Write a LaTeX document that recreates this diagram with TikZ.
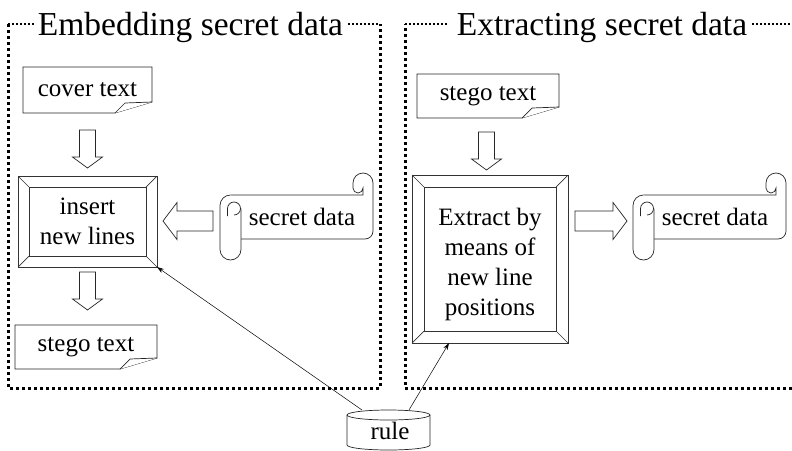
\documentclass[tikz,border=0pt]{standalone}
\usepackage{fontspec}
\setmainfont{Liberation Serif}
\usetikzlibrary{calc,arrows.meta}
\tikzset{
  shapeline/.style={draw=black!85, line width=0.7pt, fill=white},
  frameline/.style={draw=black!80, line width=0.7pt},
  dotbox/.style={line width=3pt, dash pattern=on 3pt off 3pt},
  dottop/.style={line width=1.6pt, dash pattern=on 1.6pt off 2.4pt},
  blockarrow/.style={draw=black!85, line width=0.7pt, fill=white},
  thinarrow/.style={draw=black, line width=0.5pt, -{Stealth[length=7pt,width=4.5pt]}},
  box/.style={inner sep=0pt, outer sep=0pt, align=center, font=\fontsize{25}{30}\selectfont},
  txt/.style={inner sep=0pt, outer sep=0pt, align=center, font=\fontsize{25}{30}\selectfont},
  titletxt/.style={inner sep=0pt, outer sep=0pt, font=\fontsize{33.5}{40}\selectfont},
}
% document shape with folded corner
\newcommand\docshape[1]{%
  \draw[shapeline] (#1.north west) -- (#1.north east) -- ($(#1.south east)+(0,-11)$)
     -- ($(#1.south east)+(-37,0)$) -- (#1.south west) -- cycle;
  \draw[shapeline] ($(#1.south east)+(-37,0)$) -- ($(#1.south east)+(-27,-10)$)
     -- ($(#1.south east)+(0,-11)$);
}
% bevelled frame
\newcommand\bevelframe[2]{%
  \draw[frameline] (#1.north west) rectangle (#1.south east);
  \draw[frameline] ($(#1.north west)+(#2,#2)$) rectangle ($(#1.south east)+(-#2,-#2)$);
  \draw[frameline] (#1.north west) -- ++(#2,#2);
  \draw[frameline] (#1.north east) -- ++(-#2,#2);
  \draw[frameline] (#1.south west) -- ++(#2,-#2);
  \draw[frameline] (#1.south east) -- ++(-#2,-#2);
}
% horizontal scroll around a text node
\newcommand\scrollshape[1]{%
  \begin{scope}[shift={(#1.center)}]
    \draw[shapeline] (-71.5,-22) -- (61,-22) -- (61,-29)
      arc[start angle=0,end angle=-180,radius=5pt] -- (51,-34)
      arc[start angle=180,end angle=0,radius=10pt] -- (71,14)
      arc[start angle=0,end angle=-90,radius=8pt] -- (-61,22);
    \draw[shapeline] (-61,-8.5) -- (-61,32.5)
      arc[start angle=0,end angle=-180,radius=10.5pt] -- (-82,-11.5)
      arc[start angle=180,end angle=90,radius=10.5pt];
    \draw[shapeline, fill=none] (-74.5,-1) -- (-74.5,-8.5)
      arc[start angle=180,end angle=-90,radius=6.5pt];
  \end{scope}
}
% block arrows
\newcommand\barrowdown[2]{%
  \draw[blockarrow] let \p1=(#1), \p2=(#2) in
    (\x1-8pt,\y1) -- (\x1+8pt,\y1) -- (\x1+8pt,\y2+11pt) -- (\x1+15pt,\y2+11pt)
    -- (\x1,\y2) -- (\x1-15pt,\y2+11pt) -- (\x1-8pt,\y2+11pt) -- cycle;
}
\newcommand\barrowleft[2]{%
  \draw[blockarrow] let \p1=(#1), \p2=(#2) in
    (\x1,\y1+10pt) -- (\x1,\y1-10pt) -- (\x2+14pt,\y1-10pt) -- (\x2+14pt,\y1-18.5pt)
    -- (\x2,\y1) -- (\x2+14pt,\y1+18.5pt) -- (\x2+14pt,\y1+10pt) -- cycle;
}
\newcommand\barrowright[2]{%
  \draw[blockarrow] let \p1=(#1), \p2=(#2) in
    (\x1,\y1+10pt) -- (\x1,\y1-10pt) -- (\x2-14pt,\y1-10pt) -- (\x2-14pt,\y1-18.5pt)
    -- (\x2,\y1) -- (\x2-14pt,\y1+18.5pt) -- (\x2-14pt,\y1+10pt) -- cycle;
}
\begin{document}
\begin{tikzpicture}[x=1pt,y=-1pt]
\useasboundingbox[fill=white] (0,0) rectangle (792,450);

% ---------- titles ----------
\node[titletxt, anchor=base] (title1) at (190.5,35) {Embedding secret data};
\node[titletxt, anchor=base] (title2) at (602,35) {Extracting secret data};

% ---------- dotted group boxes ----------
\coordinate (b1tl) at (8,24);
\coordinate (b1tr) at (380,24);
\coordinate (b1bl) at (8,388);
\coordinate (b1br) at (380,388);
\draw[dotbox] (b1tl) -- (b1bl) -- (b1br) -- (b1tr);
\draw[dottop] (b1tl) -- ($(title1.west |- b1tl)+(-4,0)$);
\draw[dottop] ($(title1.east |- b1tr)+(5,0)$) -- (b1tr);

\coordinate (b2tl) at (405,24);
\coordinate (b2tr) at (800,24);
\coordinate (b2bl) at (405,388);
\coordinate (b2br) at (800,388);
\draw[dotbox] (b2tr) -- (b2br) -- (b2bl) -- (b2tl);
\draw[dottop] (b2tl) -- ($(title2.west |- b2tl)+(-8,0)$);
\draw[dottop] ($(title2.east |- b2tr)+(5,0)$) -- (b2tr);

% ---------- left part ----------
\node[box, minimum width=129pt, minimum height=46pt] (cover) at (87.5,90) {};
\docshape{cover}
\node[txt] (covertext) at (cover.center) {cover text};

\node[box, minimum width=139pt, minimum height=91pt] (insert) at (87.5,221.5) {};
\bevelframe{insert}{11}
\node[txt] (inserttext) at (insert.center) {insert\\new lines};

\node[box, minimum width=142pt, minimum height=44pt] (stegoL) at (86,347) {};
\docshape{stegoL}
\node[txt] (stegoLtext) at (stegoL.center) {stego text};

\node[txt] (sd1) at (302,217) {\phantom{secret data}};
\scrollshape{sd1}
\node[txt] (sd1text) at (sd1.center) {secret data};

\coordinate (a1s) at ($(cover.south)+(0,17)$);
\coordinate (a1e) at ($(insert.north)+(0,-8)$);
\barrowdown{a1s}{a1e}
\coordinate (a2s) at ($(insert.south)+(0,5)$);
\coordinate (a2e) at ($(stegoL.north)+(1.5,-15)$);
\barrowdown{a2s}{a2e}
\coordinate (a3s) at ($(sd1.center)+(-89,4)$);
\coordinate (a3e) at ($(insert.east)+(6,0)$);
\barrowleft{a3s}{a3e}

% ---------- right part ----------
\node[box, minimum width=142pt, minimum height=44pt] (stegoR) at (488,96) {};
\docshape{stegoR}
\node[txt] (stegoRtext) at (stegoR.center) {stego text};

\node[box, minimum width=156pt, minimum height=168pt] (extract) at (490,259) {};
\bevelframe{extract}{12}
\node[txt] (extracttext) at ($(extract.center)+(0,5)$) {Extract by\\means of\\new line\\positions};

\node[txt] (sd2) at (715,217) {\phantom{secret data}};
\scrollshape{sd2}
\node[txt] (sd2text) at (sd2.center) {secret data};

\coordinate (a4s) at ($(stegoR.south)+(-1.5,14)$);
\coordinate (a4e) at ($(extract.north)+(-3.5,-5)$);
\barrowdown{a4s}{a4e}
\coordinate (a5s) at ($(extract.north east)+(7,46)$);
\coordinate (a5e) at ($(sd2.center)+(-88,4)$);
\barrowright{a5s}{a5e}

% ---------- rule cylinder ----------
\node[txt, anchor=base] (rule) at (390,439) {rule};
\draw[shapeline, fill=none] (347,415) -- (347,445)
   arc[start angle=180,end angle=360,x radius=41.5pt,y radius=5pt] -- (430,415);
\draw[shapeline, fill=none] (388.5,415) ellipse [x radius=41.5pt, y radius=5pt];
\coordinate (ruleA) at (362,410);
\coordinate (ruleB) at (409,410);
\draw[thinarrow] (ruleA) -- (insert.south east);
\draw[thinarrow] (ruleB) -- ($(extract.south west)+(37,0)$);
\end{tikzpicture}
\end{document}
